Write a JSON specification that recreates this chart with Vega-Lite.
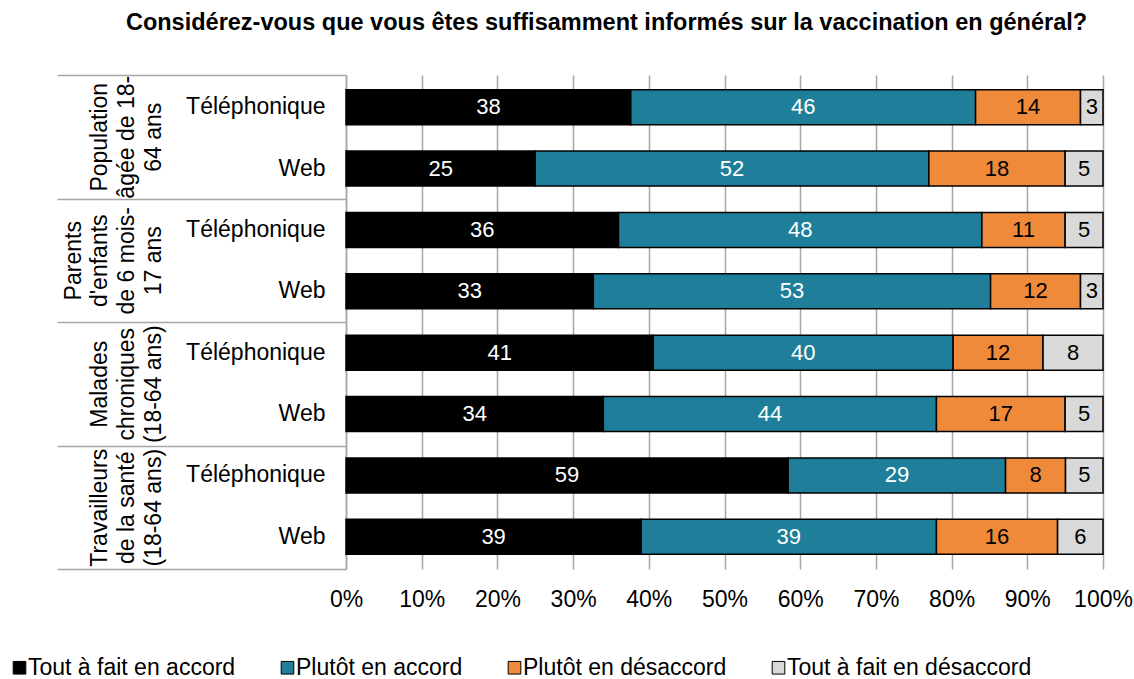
{
  "$schema": "https://vega.github.io/schema/vega-lite/v6.json",
  "autosize": "none",
  "width": 757,
  "height": 494,
  "padding": {"left": 346, "top": 75, "right": 31, "bottom": 110},
  "background": "white",
  "config": {
    "view": {"stroke": null},
    "font": "Liberation Sans",
    "axis": {"labelFont": "Liberation Sans", "labelColor": "black"},
    "legend": {"labelFont": "Liberation Sans"}
  },
  "title": {
    "text": "Considérez-vous que vous êtes suffisamment informés sur la vaccination en général?",
    "font": "Liberation Sans",
    "fontSize": 23.5,
    "fontWeight": "bold",
    "color": "black",
    "anchor": "middle",
    "frame": "group",
    "dx": -118,
    "offset": 40
  },
  "datasets": {
    "bars": [
      {"row": "Population · Téléphonique", "group": "Population|âgée de 18-|64 ans", "reponse": "Tout à fait en accord", "ordre": 1, "pct": 38},
      {"row": "Population · Téléphonique", "group": "Population|âgée de 18-|64 ans", "reponse": "Plutôt en accord", "ordre": 2, "pct": 46},
      {"row": "Population · Téléphonique", "group": "Population|âgée de 18-|64 ans", "reponse": "Plutôt en désaccord", "ordre": 3, "pct": 14},
      {"row": "Population · Téléphonique", "group": "Population|âgée de 18-|64 ans", "reponse": "Tout à fait en désaccord", "ordre": 4, "pct": 3},
      {"row": "Population · Web", "group": "Population|âgée de 18-|64 ans", "reponse": "Tout à fait en accord", "ordre": 1, "pct": 25},
      {"row": "Population · Web", "group": "Population|âgée de 18-|64 ans", "reponse": "Plutôt en accord", "ordre": 2, "pct": 52},
      {"row": "Population · Web", "group": "Population|âgée de 18-|64 ans", "reponse": "Plutôt en désaccord", "ordre": 3, "pct": 18},
      {"row": "Population · Web", "group": "Population|âgée de 18-|64 ans", "reponse": "Tout à fait en désaccord", "ordre": 4, "pct": 5},
      {"row": "Parents · Téléphonique", "group": "Parents|d'enfants|de 6 mois-|17 ans", "reponse": "Tout à fait en accord", "ordre": 1, "pct": 36},
      {"row": "Parents · Téléphonique", "group": "Parents|d'enfants|de 6 mois-|17 ans", "reponse": "Plutôt en accord", "ordre": 2, "pct": 48},
      {"row": "Parents · Téléphonique", "group": "Parents|d'enfants|de 6 mois-|17 ans", "reponse": "Plutôt en désaccord", "ordre": 3, "pct": 11},
      {"row": "Parents · Téléphonique", "group": "Parents|d'enfants|de 6 mois-|17 ans", "reponse": "Tout à fait en désaccord", "ordre": 4, "pct": 5},
      {"row": "Parents · Web", "group": "Parents|d'enfants|de 6 mois-|17 ans", "reponse": "Tout à fait en accord", "ordre": 1, "pct": 33},
      {"row": "Parents · Web", "group": "Parents|d'enfants|de 6 mois-|17 ans", "reponse": "Plutôt en accord", "ordre": 2, "pct": 53},
      {"row": "Parents · Web", "group": "Parents|d'enfants|de 6 mois-|17 ans", "reponse": "Plutôt en désaccord", "ordre": 3, "pct": 12},
      {"row": "Parents · Web", "group": "Parents|d'enfants|de 6 mois-|17 ans", "reponse": "Tout à fait en désaccord", "ordre": 4, "pct": 3},
      {"row": "Malades · Téléphonique", "group": "Malades|chroniques|(18-64 ans)", "reponse": "Tout à fait en accord", "ordre": 1, "pct": 41},
      {"row": "Malades · Téléphonique", "group": "Malades|chroniques|(18-64 ans)", "reponse": "Plutôt en accord", "ordre": 2, "pct": 40},
      {"row": "Malades · Téléphonique", "group": "Malades|chroniques|(18-64 ans)", "reponse": "Plutôt en désaccord", "ordre": 3, "pct": 12},
      {"row": "Malades · Téléphonique", "group": "Malades|chroniques|(18-64 ans)", "reponse": "Tout à fait en désaccord", "ordre": 4, "pct": 8},
      {"row": "Malades · Web", "group": "Malades|chroniques|(18-64 ans)", "reponse": "Tout à fait en accord", "ordre": 1, "pct": 34},
      {"row": "Malades · Web", "group": "Malades|chroniques|(18-64 ans)", "reponse": "Plutôt en accord", "ordre": 2, "pct": 44},
      {"row": "Malades · Web", "group": "Malades|chroniques|(18-64 ans)", "reponse": "Plutôt en désaccord", "ordre": 3, "pct": 17},
      {"row": "Malades · Web", "group": "Malades|chroniques|(18-64 ans)", "reponse": "Tout à fait en désaccord", "ordre": 4, "pct": 5},
      {"row": "Travailleurs · Téléphonique", "group": "Travailleurs|de la santé|(18-64 ans)", "reponse": "Tout à fait en accord", "ordre": 1, "pct": 59},
      {"row": "Travailleurs · Téléphonique", "group": "Travailleurs|de la santé|(18-64 ans)", "reponse": "Plutôt en accord", "ordre": 2, "pct": 29},
      {"row": "Travailleurs · Téléphonique", "group": "Travailleurs|de la santé|(18-64 ans)", "reponse": "Plutôt en désaccord", "ordre": 3, "pct": 8},
      {"row": "Travailleurs · Téléphonique", "group": "Travailleurs|de la santé|(18-64 ans)", "reponse": "Tout à fait en désaccord", "ordre": 4, "pct": 5},
      {"row": "Travailleurs · Web", "group": "Travailleurs|de la santé|(18-64 ans)", "reponse": "Tout à fait en accord", "ordre": 1, "pct": 39},
      {"row": "Travailleurs · Web", "group": "Travailleurs|de la santé|(18-64 ans)", "reponse": "Plutôt en accord", "ordre": 2, "pct": 39},
      {"row": "Travailleurs · Web", "group": "Travailleurs|de la santé|(18-64 ans)", "reponse": "Plutôt en désaccord", "ordre": 3, "pct": 16},
      {"row": "Travailleurs · Web", "group": "Travailleurs|de la santé|(18-64 ans)", "reponse": "Tout à fait en désaccord", "ordre": 4, "pct": 6}
    ]
  },
  "data": {"name": "bars"},
  "layer": [
    {
      "layer": [
        {
          "mark": {"type": "bar", "stroke": "black", "strokeWidth": 1.5},
          "encoding": {
            "color": {
              "field": "reponse",
              "type": "nominal",
              "sort": ["Tout à fait en accord", "Plutôt en accord", "Plutôt en désaccord", "Tout à fait en désaccord"],
              "scale": {
                "domain": ["Tout à fait en accord", "Plutôt en accord", "Plutôt en désaccord", "Tout à fait en désaccord"],
                "range": ["#000000", "#1F7F9A", "#F08A3B", "#D9D9D9"]
              },
              "legend": {
                "title": null,
                "orient": "none",
                "direction": "horizontal",
                "legendX": -338,
                "legendY": 581,
                "symbolType": "square",
                "symbolSize": 160,
                "symbolStrokeColor": "black",
                "symbolStrokeWidth": 1,
                "symbolOpacity": 1,
                "labelFontSize": 23,
                "labelColor": "black",
                "labelOffset": -3,
                "columnPadding": 40,
                "padding": 0,
                "labelLimit": 0
              }
            }
          }
        },
        {
          "mark": {"type": "text", "fontSize": 22, "font": "Liberation Sans"},
          "encoding": {
            "x": {"field": "pct", "type": "quantitative", "stack": "normalize", "bandPosition": 0.5},
            "text": {"field": "pct", "type": "quantitative"},
            "color": {
              "condition": {"test": "datum.ordre <= 2", "value": "white"},
              "value": "black"
            }
          }
        }
      ],
      "encoding": {
        "y": {
          "field": "row",
          "type": "nominal",
          "sort": null,
          "title": null,
          "scale": {"paddingInner": 0.43, "paddingOuter": 0.24},
          "axis": {
            "labelExpr": "split(datum.value, ' · ')[1]",
            "labelFontSize": 23,
            "labelPadding": 21,
            "ticks": false,
            "domain": true,
            "domainColor": "#A6A6A6",
            "domainWidth": 1.5,
            "grid": false,
            "labelLimit": 0
          }
        },
        "x": {
          "field": "pct",
          "type": "quantitative",
          "stack": "normalize",
          "title": null,
          "scale": {"domain": [0, 1]},
          "axis": {
            "values": [0, 0.1, 0.2, 0.3, 0.4, 0.5, 0.6, 0.7, 0.8, 0.9, 1],
            "format": ".0%",
            "labelFontSize": 23,
            "labelPadding": 19,
            "ticks": false,
            "domain": false,
            "grid": true,
            "gridColor": "#A6A6A6",
            "gridWidth": 1.5,
            "labelFlush": false
          }
        },
        "order": {"field": "ordre", "type": "quantitative"}
      }
    },
    {
      "mark": {"type": "point", "opacity": 0},
      "encoding": {
        "y": {
          "field": "group",
          "type": "nominal",
          "sort": null,
          "title": null,
          "scale": {"paddingInner": 0, "paddingOuter": 0},
          "axis": {
            "orient": "left",
            "labelExpr": "datum.value ? split((length(split(datum.value, '|')) < 4 ? '|' : '') + datum.value, '|') : ''",
            "labelFontSize": 23,
            "labelLineHeight": 26.7,
            "labelAngle": -90,
            "labelAlign": "center",
            "labelBaseline": "bottom",
            "labelPadding": -28,
            "labelLimit": 0,
            "labelOverlap": false,
            "labelBound": false,
            "labelFlush": false,
            "ticks": true,
            "tickBand": "extent",
            "tickSize": 289,
            "tickColor": "#A6A6A6",
            "tickWidth": 1.5,
            "domain": false,
            "grid": false
          }
        }
      }
    }
  ],
  "resolve": {"scale": {"y": "independent"}, "axis": {"y": "independent"}}
}
